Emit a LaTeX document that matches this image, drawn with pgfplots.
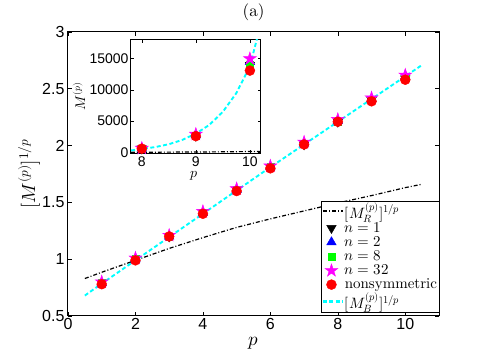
\documentclass[border=0pt]{standalone}
\usepackage{fontspec}
\usepackage{unicode-math}
\setmainfont{lmroman10-regular.otf}[BoldFont=lmroman10-bold.otf, ItalicFont=lmroman10-italic.otf]
\setmathfont{Latin Modern Math}
\usepackage{pgfplots}
\pgfplotsset{compat=1.18}
\newfontfamily\helv{Liberation Sans}
\definecolor{mcyan}{rgb}{0,1,1}
\definecolor{mgreen}{rgb}{0,1,0}
\definecolor{mblue}{rgb}{0,0,1}
\definecolor{mmag}{rgb}{1,0,1}
\definecolor{mred}{rgb}{1,0,0}
\pgfdeclareplotmark{fstar}{%
  \pgfpathmoveto{\pgfpointpolar{90}{\pgfplotmarksize}}%
  \pgfpathlineto{\pgfpointpolar{126}{0.382\pgfplotmarksize}}%
  \pgfpathlineto{\pgfpointpolar{162}{\pgfplotmarksize}}%
  \pgfpathlineto{\pgfpointpolar{198}{0.382\pgfplotmarksize}}%
  \pgfpathlineto{\pgfpointpolar{234}{\pgfplotmarksize}}%
  \pgfpathlineto{\pgfpointpolar{270}{0.382\pgfplotmarksize}}%
  \pgfpathlineto{\pgfpointpolar{306}{\pgfplotmarksize}}%
  \pgfpathlineto{\pgfpointpolar{342}{0.382\pgfplotmarksize}}%
  \pgfpathlineto{\pgfpointpolar{18}{\pgfplotmarksize}}%
  \pgfpathlineto{\pgfpointpolar{54}{0.382\pgfplotmarksize}}%
  \pgfpathclose
  \pgfusepathqfillstroke
}
\pgfplotsset{
  mr/.style={black, line width=1.2pt, dash pattern=on 4pt off 2pt on 1pt off 2pt,
    legend image code/.code={\draw[black, line width=1.6pt, dash pattern=on 4pt off 2pt on 1.2pt off 2pt] (0cm,0cm) -- (0.7cm,0cm);}},
  mb/.style={mcyan, line width=1.9pt, dash pattern=on 4pt off 2.5pt,
    legend image code/.code={\draw[mcyan, line width=2.3pt, dash pattern=on 4pt off 2.5pt] (0cm,0cm) -- (0.7cm,0cm);}},
  n1/.style={only marks, mark=triangle*, mark size=5.5pt, mark options={rotate=180, fill=black, draw=black, solid}},
  n2/.style={only marks, mark=triangle*, mark size=5.5pt, mark options={fill=mblue, draw=mblue, solid}},
  n8/.style={only marks, mark=square*, mark size=3.5pt, mark options={fill=mgreen, draw=mgreen, solid}},
  n32/.style={only marks, mark=fstar, mark size=6.8pt, mark options={fill=mmag, draw=mmag, line width=0.4pt, solid}},
  ns/.style={only marks, mark=*, mark size=5pt, mark options={fill=mred, draw=mred, solid}},
}
\begin{document}
\begin{tikzpicture}
\useasboundingbox (-68pt,-39pt) rectangle (417pt,316pt);
\begin{axis}[
  scale only axis, width=371pt, height=284pt,
  xmin=0, xmax=11, ymin=0.5, ymax=3,
  xtick={0,2,4,6,8,10}, ytick={0.5,1,1.5,2,2.5,3},
  tick align=inside, major tick length=4pt,
  axis line style={line width=1pt}, every tick/.style={black, line width=0.6pt},
  /pgf/number format/assume math mode=true,
  tick label style={font=\helv\fontsize{16}{16}\selectfont},
  xticklabel style={yshift=1pt},
  xlabel={$p$}, ylabel={$[M^{(p)}]^{1/p}$},
  label style={font=\fontsize{19}{19}\selectfont},
  xlabel style={at={(axis description cs:0.5,-0.095)}, anchor=center},
  ylabel style={at={(axis description cs:-0.105,0.5)}, anchor=center},
  title={(a)},
  every axis title/.style={font=\fontsize{17}{17}\selectfont, inner sep=0pt, at={(axis description cs:0.5,1.07)}, anchor=center},
  legend style={at={(1,0.014)}, anchor=south east, font=\fontsize{15}{15}\selectfont, inner sep=1pt, row sep=1pt, draw=black, nodes={inner sep=0.8pt}},
  legend cell align=left,
]
\addplot[mr] coordinates {(0.5,0.83)(1,0.885)(2,0.99)(3,1.095)(4,1.19)(5,1.28)(6,1.355)(7,1.425)(8,1.495)(9,1.56)(10,1.63)(10.5,1.66)};
\addlegendentry{$[M_R^{(p)}]^{1/p}$}
\addplot[n1] coordinates {(1,0.79)(2,1.00)(3,1.20)(4,1.41)(5,1.61)(6,1.81)(7,2.01)(8,2.21)(9,2.40)(10,2.59)};
\addlegendentry{$n=1$}
\addplot[n2] coordinates {(1,0.79)(2,1.00)(3,1.20)(4,1.41)(5,1.61)(6,1.81)(7,2.02)(8,2.22)(9,2.41)(10,2.61)};
\addlegendentry{$n=2$}
\addplot[n8] coordinates {(1,0.79)(2,1.00)(3,1.20)(4,1.41)(5,1.61)(6,1.81)(7,2.02)(8,2.21)(9,2.40)(10,2.60)};
\addlegendentry{$n=8$}
\addplot[n32] coordinates {(1,0.80)(2,1.01)(3,1.21)(4,1.42)(5,1.62)(6,1.82)(7,2.03)(8,2.23)(9,2.42)(10,2.62)};
\addlegendentry{$n=32$}
\addplot[ns] coordinates {(1,0.78)(2,0.99)(3,1.20)(4,1.40)(5,1.60)(6,1.80)(7,2.01)(8,2.21)(9,2.39)(10,2.58)};
\addlegendentry{nonsymmetric}
\addplot[mb] coordinates {(0.5,0.68)(1,0.785)(2,0.99)(3,1.195)(4,1.40)(5,1.605)(6,1.81)(7,2.01)(8,2.21)(9,2.41)(10,2.61)(10.5,2.71)};
\addlegendentry{$[M_B^{(p)}]^{1/p}$}
\end{axis}
\begin{axis}[
  at={(63pt,162.7pt)}, anchor=south west,
  scale only axis, width=129.7pt, height=113.3pt,
  xmin=7.8, xmax=10.2, ymin=-150, ymax=18000,
  xtick={8,9,10}, ytick={0,5000,10000,15000},
  scaled y ticks=false,
  /pgf/number format/.cd, 1000 sep={}, assume math mode=true, /pgfplots/.cd,
  tick align=inside, major tick length=3pt,
  axis line style={line width=1pt}, every tick/.style={black, line width=0.6pt},
  axis background/.style={fill=white},
  tick label style={font=\helv\fontsize{14}{14}\selectfont},
  yticklabel style={xshift=1pt},
  xlabel={$p$}, ylabel={$M^{(p)}$},
  label style={font=\fontsize{14}{14}\selectfont},
  xlabel style={at={(axis description cs:0.49,-0.2)}, anchor=center},
  ylabel style={at={(axis description cs:-0.395,0.5)}, anchor=center},
]
\addplot[mr] coordinates {(7.8,24)(8,27)(8.5,36)(9,57)(9.5,85)(10,132)(10.2,160)};
\addplot[n1] coordinates {(8,600)(9,2650)(10,14000)};
\addplot[n2] coordinates {(8,620)(9,2750)(10,14500)};
\addplot[n8] coordinates {(8,610)(9,2700)(10,14100)};
\addplot[n32] coordinates {(8,650)(9,2900)(10,15000)};
\addplot[ns] coordinates {(8,590)(9,2600)(10,13100)};
\addplot[mb] coordinates {(7.8,300)(8,550)(8.25,850)(8.5,1300)(8.75,2000)(9,3000)(9.25,4400)(9.5,6500)(9.75,9500)(10,13800)(10.2,20500)};
\end{axis}
\end{tikzpicture}
\end{document}
